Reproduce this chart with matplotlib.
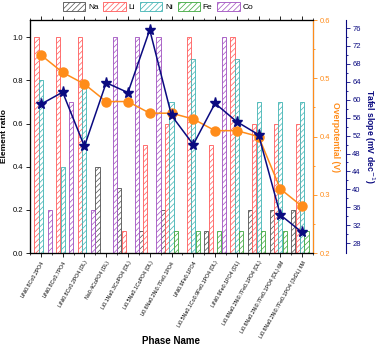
import matplotlib
matplotlib.use("Agg")
import matplotlib.pyplot as plt
import numpy as np
from matplotlib.patches import Patch

plt.rcParams['font.family'] = ['Liberation Sans', 'DejaVu Sans']
plt.rcParams['hatch.linewidth'] = 0.5

phases = [
    "LiNi0.8Co0.2PO4",
    "LiNi0.8Co0.7PO4",
    "LiNi0.8Co0.2PO4 (DL)",
    "Na0.4CoPO4 (DL)",
    "Li0.1Na0.3CoPO4 (DL)",
    "Li0.5Na0.1CoPO4 (DL)",
    "Li0.6Na0.2Ni0.7Fe0.1PO4",
    "LiNi0.9Fe0.1PO4",
    "Li0.5Na0.1Co0.9Fe0.1PO4 (DL)",
    "LiNi0.9Fe0.1PO4 (DL)",
    "Li0.6Na0.2Ni0.7Fe0.1PO4 (DL)",
    "Li0.6Na0.2Ni0.7Fe0.1PO4 (DL) 6M",
    "Li0.6Na0.2Ni0.7Fe0.1PO4 (3xDL) 6M",
]
na = [0, 0, 0, 0.4, 0.3, 0.1, 0.2, 0, 0.1, 0, 0.2, 0.2, 0.2]
li = [1.0, 1.0, 1.0, 0, 0.1, 0.5, 0.6, 1.0, 0.5, 1.0, 0.6, 0.6, 0.6]
ni = [0.8, 0.4, 0.8, 0, 0, 0, 0.7, 0.9, 0, 0.9, 0.7, 0.7, 0.7]
fe = [0, 0, 0, 0, 0, 0, 0.1, 0.1, 0.1, 0.1, 0.1, 0.1, 0.1]
co = [0.2, 0.7, 0.2, 1.0, 1.0, 1.0, 0, 0, 1.0, 0, 0, 0, 0]
overpotential = [0.54, 0.51, 0.49, 0.46, 0.46, 0.44, 0.44, 0.43, 0.41, 0.41, 0.40, 0.31, 0.28]
tafel = [59.0, 61.7, 49.6, 63.8, 61.6, 75.6, 56.5, 50.0, 59.2, 55.1, 52.2, 34.3, 30.4]

elements = ["Na", "Li", "Ni", "Fe", "Co"]
colors = ["#505050", "#ff5a5a", "#3fb3b3", "#3fa83f", "#a050c0"]
series = [na, li, ni, fe, co]

fig = plt.figure(figsize=(3.76, 3.47), dpi=100)
ax = fig.add_axes([30/376, 1-253/347, 283/376, 233/347])
x = np.arange(len(phases))
w = 0.19
offs = [-0.4, -0.2, 0.0, 0.2, 0.4]
for s, c, o, name in zip(series, colors, offs, elements):
    ax.bar(x + o, s, width=w, facecolor="white", edgecolor=c, hatch="//////",
           linewidth=0.6, label=name, zorder=2)

ax.set_xlim(-0.5, len(phases) - 0.5)
ax.set_ylim(0, 1.08)
ax.set_yticks([0, 0.2, 0.4, 0.6, 0.8, 1.0])
ax.set_yticklabels(["0.0", "0.2", "0.4", "0.6", "0.8", "1.0"])
ax.set_xticks(x)
ax.set_xticklabels(phases, rotation=60, ha="right", rotation_mode="anchor", fontsize=3.8)
ax.tick_params(axis="y", labelsize=5.5, length=3, width=0.6, pad=2)
ax.tick_params(axis="x", length=3, width=0.6, pad=2)
ax.set_xticks(np.arange(-0.5, len(phases), 1.0), minor=True)
ax.tick_params(axis="x", which="minor", length=1.5, width=0.5)
ax.tick_params(top=True, which="both", direction="out")
ax.set_ylabel("Element ratio", fontsize=6, fontweight="bold")
ax.yaxis.set_label_coords(-0.078, 0.5)
ax.set_xlabel("Phase Name", fontsize=7, fontweight="bold")
ax.xaxis.set_label_coords(0.5, -0.355)
for sp in ax.spines.values():
    sp.set_linewidth(0.8)

ax2 = ax.twinx()
op_color = "#ff8c1a"
ax2.plot(x, overpotential, color=op_color, marker="o", markersize=6.5, linewidth=1.1, zorder=3)
ax2.set_ylim(0.2, 0.6)
ax2.set_yticks([0.2, 0.3, 0.4, 0.5, 0.6])
ax2.set_yticks([0.25, 0.35, 0.45, 0.55], minor=True)
ax2.tick_params(axis="y", which="both", colors=op_color, labelsize=5.5, width=0.6, pad=1.5)
ax2.tick_params(axis="y", which="major", length=3)
ax2.tick_params(axis="y", which="minor", length=1.5)
ax2.spines["right"].set_color(op_color)
ax2.spines["right"].set_linewidth(0.8)
ax2.set_ylabel("Overpotential (V)", color=op_color, fontsize=6.2, fontweight="bold",
               rotation=270, va="center")
ax2.yaxis.set_label_coords(1.078, 0.5)

ax3 = ax.twinx()
tf_color = "#0a0a80"
ax3.spines["right"].set_position(("axes", 1.117))
ax3.plot(x, tafel, color=tf_color, marker="*", markersize=8, linewidth=1.1, zorder=4)
ax3.set_ylim(25.8, 77.8)
ax3.set_yticks(np.arange(28, 77, 4))
ax3.set_yticks(np.arange(30, 77, 4), minor=True)
ax3.tick_params(axis="y", which="both", colors=tf_color, labelsize=5.5, width=0.6, pad=1.5)
ax3.tick_params(axis="y", which="major", length=3)
ax3.tick_params(axis="y", which="minor", length=1.5)
ax3.spines["right"].set_color(tf_color)
ax3.spines["right"].set_linewidth(0.8)
ax3.set_ylabel("Tafel slope (mV dec$^{-1}$)", color=tf_color, fontsize=6.2, fontweight="bold",
               rotation=270, va="center")
ax3.yaxis.set_label_coords(1.197, 0.5)

handles = [Patch(facecolor="white", edgecolor=c, hatch="//////", linewidth=0.6, label=n)
           for c, n in zip(colors, elements)]
fig.legend(handles=handles, loc="upper center", bbox_to_anchor=(158/376, 1.0), ncol=5,
           frameon=False, fontsize=6, handlelength=2.7, handleheight=1.4,
           columnspacing=0.6, handletextpad=0.3, borderaxespad=0.1, borderpad=0.1)

fig.savefig("out.png", dpi=100)
